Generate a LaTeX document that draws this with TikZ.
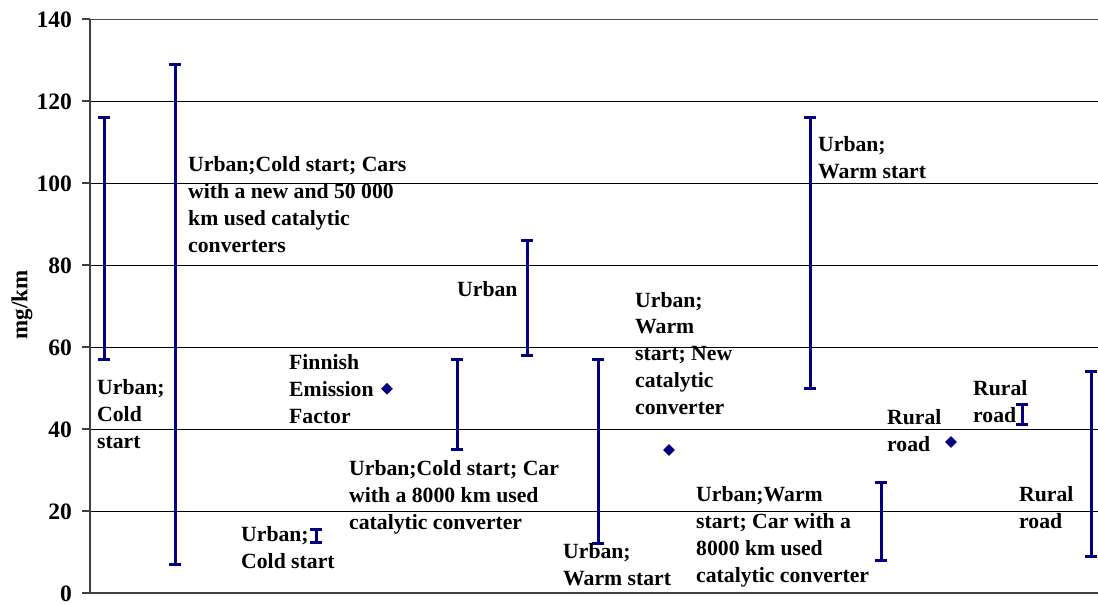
\documentclass[tikz,border=0pt]{standalone}
\usepackage{fontspec}
\setmainfont{Liberation Serif}
\usetikzlibrary{shapes.geometric}
\definecolor{barblue}{RGB}{0,0,128}
\begin{document}
\begin{tikzpicture}[x=1pt,y=-1pt,
  grid/.style={black,line width=1pt},
  axisline/.style={black!75,line width=1.4pt},
  errbar/.style={barblue,line width=3pt},
  errcap/.style={barblue,line width=3pt},
  pt/.style={diamond,fill=barblue,inner sep=0pt,minimum width=12pt,minimum height=12pt},
  lbl/.style={font=\fontsize{21.7}{26.7}\selectfont\bfseries,align=left,inner sep=0pt,anchor=base west},
  tick/.style={font=\fontsize{23.5}{24}\selectfont\bfseries,inner sep=0pt,anchor=base east}]
\useasboundingbox (0,0) rectangle (1098,603);
% gridlines (y = 593 - 4.1*v)
\foreach \v in {20,40,...,120} {
  \draw[grid] (90,{593-4.1*\v}) -- (1098,{593-4.1*\v});
}
\draw[black!70,line width=1pt] (90,19) -- (1098,19);
\foreach \v in {0,20,...,140} {
  \draw[axisline] (82,{593-4.1*\v}) -- (90,{593-4.1*\v});
  \node[tick] at (72,{593-4.1*\v+8}) {\v};
}
\draw[axisline] (90,19) -- (90,593);
\draw[axisline] (90,593) -- (1098,593);
\node[font=\fontsize{23}{24}\selectfont\bfseries,rotate=90,inner sep=0pt] (ytitle) at (22,305) {mg/km};
% error bars
\foreach \n/\x/\lo/\hi in {b1/104/57/116, b2/175/7/129, b3/316/12.2/15.4, b5/457/35/57, b6/527/58/86, b7/598/12/57, b9/810/50/116, b10/881/8/27, b12/1022/41/46, b13/1091/9/54} {
  \coordinate (\n lo) at (\x,{593-4.1*\lo});
  \coordinate (\n hi) at (\x,{593-4.1*\hi});
  \draw[errbar] (\n lo) -- (\n hi);
  \draw[errcap] ([xshift=-6pt]\n lo) -- ([xshift=6pt]\n lo);
  \draw[errcap] ([xshift=-6pt]\n hi) -- ([xshift=6pt]\n hi);
}
% single points
\node[pt] (p4) at (387,{593-4.1*49.8}) {};
\node[pt] (p8) at (669,450) {};
\node[pt] (p11) at (951,442) {};
% labels (anchored at baseline of last line)
\node[lbl] (l1) at (97,448) {Urban;\\Cold\\start};
\node[lbl] (l2) at (188,252) {Urban;Cold start; Cars\\with a new and 50 000\\km used catalytic\\converters};
\node[lbl] (l3) at (241,568) {Urban;\\Cold start};
\node[lbl] (l4) at (289,423) {Finnish\\Emission\\Factor};
\node[lbl] (l5) at (349,529) {Urban;Cold start; Car\\with a 8000 km used\\catalytic converter};
\node[lbl] (l6) at (457,296) {Urban};
\node[lbl] (l7) at (563,585) {Urban;\\Warm start};
\node[lbl] (l8) at (635,414) {Urban;\\Warm\\start; New\\catalytic\\converter};
\node[lbl] (l9) at (818,178) {Urban;\\Warm start};
\node[lbl] (l10) at (696,582) {Urban;Warm\\start; Car with a\\8000 km used\\catalytic converter};
\node[lbl] (l11) at (887,451) {Rural\\road};
\node[lbl] (l12) at (973,422) {Rural\\road};
\node[lbl] (l13) at (1019,528) {Rural\\road};
\end{tikzpicture}
\end{document}
